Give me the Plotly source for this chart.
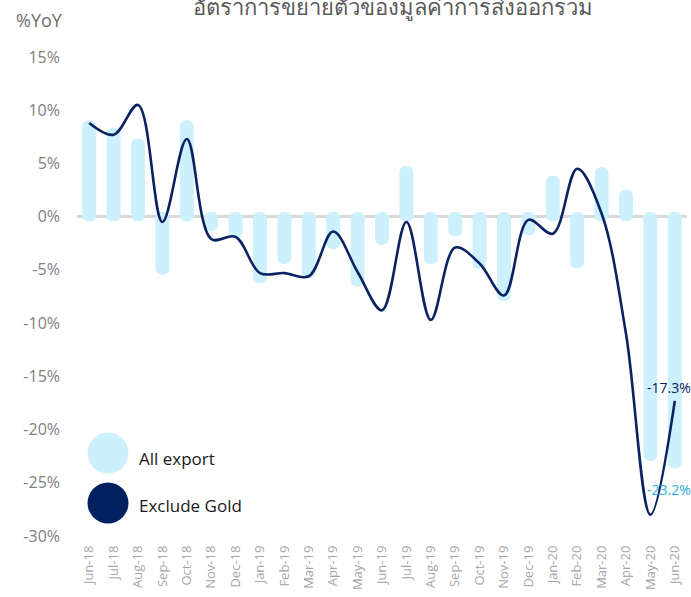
import plotly.graph_objects as go

categories = ['Jun-18', 'Jul-18', 'Aug-18', 'Sep-18', 'Oct-18', 'Nov-18', 'Dec-18',
              'Jan-19', 'Feb-19', 'Mar-19', 'Apr-19', 'May-19', 'Jun-19', 'Jul-19',
              'Aug-19', 'Sep-19', 'Oct-19', 'Nov-19', 'Dec-19', 'Jan-20', 'Feb-20',
              'Mar-20', 'Apr-20', 'May-20', 'Jun-20']
all_export = [8.6, 7.9, 6.9, -5.0, 8.6, -0.9, -1.5, -5.8, -4.0, -5.3, -2.6, -6.1, -2.2,
              4.3, -4.0, -1.4, -4.5, -7.5, -1.3, 3.4, -4.4, 4.2, 2.1, -22.5, -23.2]
exclude_gold = [8.8, 7.7, 10.5, -0.5, 7.3, -2.1, -1.9, -5.3, -5.3, -5.6, -1.4, -5.2, -8.8,
                -0.5, -9.7, -2.9, -4.4, -7.4, -0.3, -1.6, 4.5, 0.3, -11.0, -28.0, -17.3]
y_ticks = [15, 10, 5, 0, -5, -10, -15, -20, -25, -30]
y_tick_labels = ['15%', '10%', '5%', '0%', '-5%', '-10%', '-15%', '-20%', '-25%', '-30%']
title_text = 'อัตราการขยายตัวของมูลค่าการส่งออกรวม'
unit_text = '%YoY'

LIGHT = '#CDF0FD'
NAVY = '#0A2261'
LABEL_BLUE = '#29ABE2'

W, H = 691, 597
L, R, T, B = 77, 4, 57, 61
PW, PH = W - L - R, H - T - B

def px(xp):
    return (xp - L) / PW

def py(yp):
    return (H - B - yp) / PH

cap = 0.45      # rounded cap overhang (style)
inner = 0.8
sign = [1 if v >= 0 else -1 for v in all_export]
bar_w = 0.57

fig = go.Figure()
fig.add_trace(go.Bar(
    x=categories, y=[v + s * cap for v, s in zip(all_export, sign)],
    marker=dict(color=LIGHT, cornerradius='50%', line=dict(width=0)),
    width=bar_w, showlegend=False, hoverinfo='skip'))
fig.add_trace(go.Bar(
    x=categories, y=[-s * (cap + inner) for s in sign], base=[s * inner for s in sign],
    marker=dict(color=LIGHT, cornerradius='50%', line=dict(width=0)),
    width=bar_w, showlegend=False, hoverinfo='skip'))
fig.add_trace(go.Scatter(
    x=categories, y=exclude_gold, mode='lines', xaxis='x2', yaxis='y2',
    line=dict(color=NAVY, width=2.6, shape='spline', smoothing=1.0),
    showlegend=False, hoverinfo='skip'))

yr = [-30, 15]
fig.update_layout(
    width=W, height=H, margin=dict(l=L, r=R, t=T, b=B),
    paper_bgcolor='white', plot_bgcolor='white',
    barmode='overlay', showlegend=False,
    font=dict(family='Open Sans, Noto Sans, sans-serif'),
    xaxis=dict(type='category', categoryarray=categories, range=[-0.5, 24.5],
               tickangle=-90, showgrid=False, showline=False, ticks='',
               tickfont=dict(size=13, color='#A6A6A6'), ticklabelstandoff=6),
    yaxis=dict(range=yr, tickvals=y_ticks, ticktext=y_tick_labels, showgrid=False,
               zeroline=True, zerolinecolor='#D9D9D9', zerolinewidth=3,
               layer='above traces', showline=False, ticks='',
               tickfont=dict(size=16, color='#808080'), ticklabelstandoff=16),
    xaxis2=dict(type='category', categoryarray=categories, range=[-0.5, 24.5],
                overlaying='x', visible=False),
    yaxis2=dict(range=yr, overlaying='y', visible=False),
)

shapes = []
annotations = []
legend_items = [('All export', LIGHT, 453, 458), ('Exclude Gold', '#002060', 503, 505)]
for name, col, cy, ty in legend_items:
    shapes.append(dict(type='circle', xref='paper', yref='paper',
                       xsizemode='pixel', ysizemode='pixel',
                       xanchor=px(108), yanchor=py(cy),
                       x0=-20.5, x1=20.5, y0=-20.5, y1=20.5,
                       fillcolor=col, line=dict(width=0)))
    annotations.append(dict(text=name, xref='paper', yref='paper', x=px(137), y=py(ty),
                            xanchor='left', yanchor='middle', showarrow=False,
                            font=dict(size=17, color='#1A1A1A')))

annotations.append(dict(text=title_text, xref='paper', yref='paper', x=px(393), y=py(6),
                        xanchor='center', yanchor='middle', showarrow=False,
                        font=dict(size=22, color='#595959')))
annotations.append(dict(text=unit_text, xref='paper', yref='paper', x=px(14), y=py(20),
                        xanchor='left', yanchor='middle', showarrow=False,
                        font=dict(size=18, color='#6D6D6D')))
annotations.append(dict(text=f'{exclude_gold[-1]:.1f}%', xref='x', yref='y',
                        x=categories[-1], y=exclude_gold[-1], xshift=-6, yshift=13,
                        xanchor='center', yanchor='middle', showarrow=False,
                        font=dict(size=14, color=NAVY)))
annotations.append(dict(text=f'{all_export[-1]:.1f}%', xref='x', yref='y',
                        x=categories[-1], y=all_export[-1], xshift=-6, yshift=-26,
                        xanchor='center', yanchor='middle', showarrow=False,
                        font=dict(size=14, color=LABEL_BLUE)))

fig.update_layout(shapes=shapes, annotations=annotations)
fig.write_html('out.html', config={'displayModeBar': False},
               post_script="document.body.style.margin='0';document.body.style.padding='0';")
